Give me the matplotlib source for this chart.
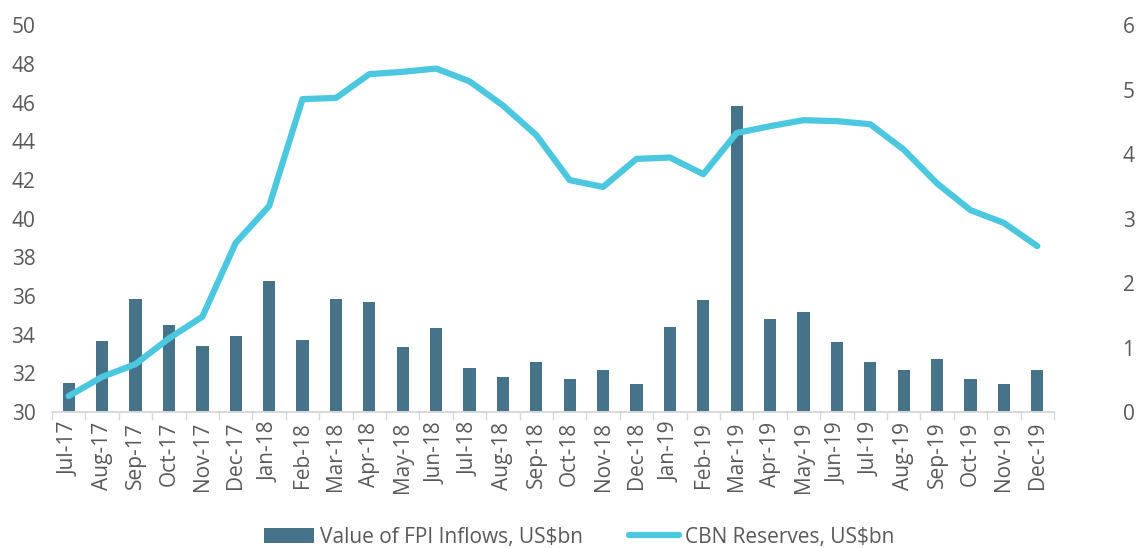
import matplotlib.pyplot as plt
import numpy as np

months = ["Jul-17", "Aug-17", "Sep-17", "Oct-17", "Nov-17", "Dec-17",
          "Jan-18", "Feb-18", "Mar-18", "Apr-18", "May-18", "Jun-18",
          "Jul-18", "Aug-18", "Sep-18", "Oct-18", "Nov-18", "Dec-18",
          "Jan-19", "Feb-19", "Mar-19", "Apr-19", "May-19", "Jun-19",
          "Jul-19", "Aug-19", "Sep-19", "Oct-19", "Nov-19", "Dec-19"]

fpi_inflows = [0.45, 1.10, 1.76, 1.35, 1.03, 1.18,
               2.04, 1.12, 1.76, 1.71, 1.01, 1.30,
               0.69, 0.54, 0.78, 0.51, 0.65, 0.44,
               1.32, 1.74, 4.75, 1.44, 1.56, 1.09,
               0.77, 0.66, 0.82, 0.51, 0.44, 0.65]

cbn_reserves = [30.83, 31.82, 32.48, 33.81, 34.93, 38.75,
                40.65, 46.18, 46.24, 47.47, 47.59, 47.76,
                47.10, 45.85, 44.32, 41.99, 41.64, 43.09,
                43.16, 42.30, 44.43, 44.78, 45.09, 45.04,
                44.88, 43.57, 41.82, 40.44, 39.78, 38.58]

left_ticks = list(range(30, 51, 2))
right_ticks = list(range(0, 7))

bar_color = "#46738A"
line_color = "#4BC8E0"
text_color = "#595959"

plt.rcParams["font.family"] = ["Open Sans", "DejaVu Sans"]

fig = plt.figure(figsize=(11.36, 5.48), dpi=100)
ax = fig.add_axes([0.0458, 0.248, 0.882, 0.706])
ax2 = ax.twinx()

x = np.arange(len(months))

bars = ax2.bar(x, fpi_inflows, width=0.37, color=bar_color,
               label="Value of FPI Inflows, US$bn")
line, = ax.plot(x, cbn_reserves, color=line_color, linewidth=4.5,
                solid_capstyle="round", solid_joinstyle="round",
                label="CBN Reserves, US$bn")

# line sits above the bars
ax.set_zorder(ax2.get_zorder() + 1)
ax.patch.set_visible(False)

ax.set_ylim(30, 50)
ax.set_yticks(left_ticks)
ax2.set_ylim(0, 6)
ax2.set_yticks(right_ticks)
ax.set_xlim(-0.5, len(months) - 0.5)

ax.set_xticks(x)
ax.set_xticklabels(months, rotation=90, fontsize=15, color=text_color)
ax.set_xticks(np.arange(-0.5, len(months), 1.0), minor=True)
ax.tick_params(axis="x", which="major", length=0, pad=7)
ax.tick_params(axis="x", which="minor", length=6, color="#D9D9D9", width=1)
ax.tick_params(axis="y", length=0, labelsize=15, labelcolor=text_color, pad=12)
ax2.tick_params(axis="y", length=0, labelsize=15, labelcolor=text_color, pad=58)
for lab in ax2.get_yticklabels():
    lab.set_horizontalalignment("right")

for a in (ax, ax2):
    for side in ("top", "left", "right"):
        a.spines[side].set_visible(False)
    a.spines["bottom"].set_color("#D9D9D9")
    a.spines["bottom"].set_linewidth(1.2)

fig.legend([bars, line], [bars.get_label(), line.get_label()],
           loc="center", bbox_to_anchor=(0.51, 0.02), ncol=2,
           frameon=False, fontsize=15, labelcolor=text_color,
           handlelength=2.4, handletextpad=0.3, columnspacing=2.2)

fig.savefig("out.png", dpi=100)
plt.close(fig)
